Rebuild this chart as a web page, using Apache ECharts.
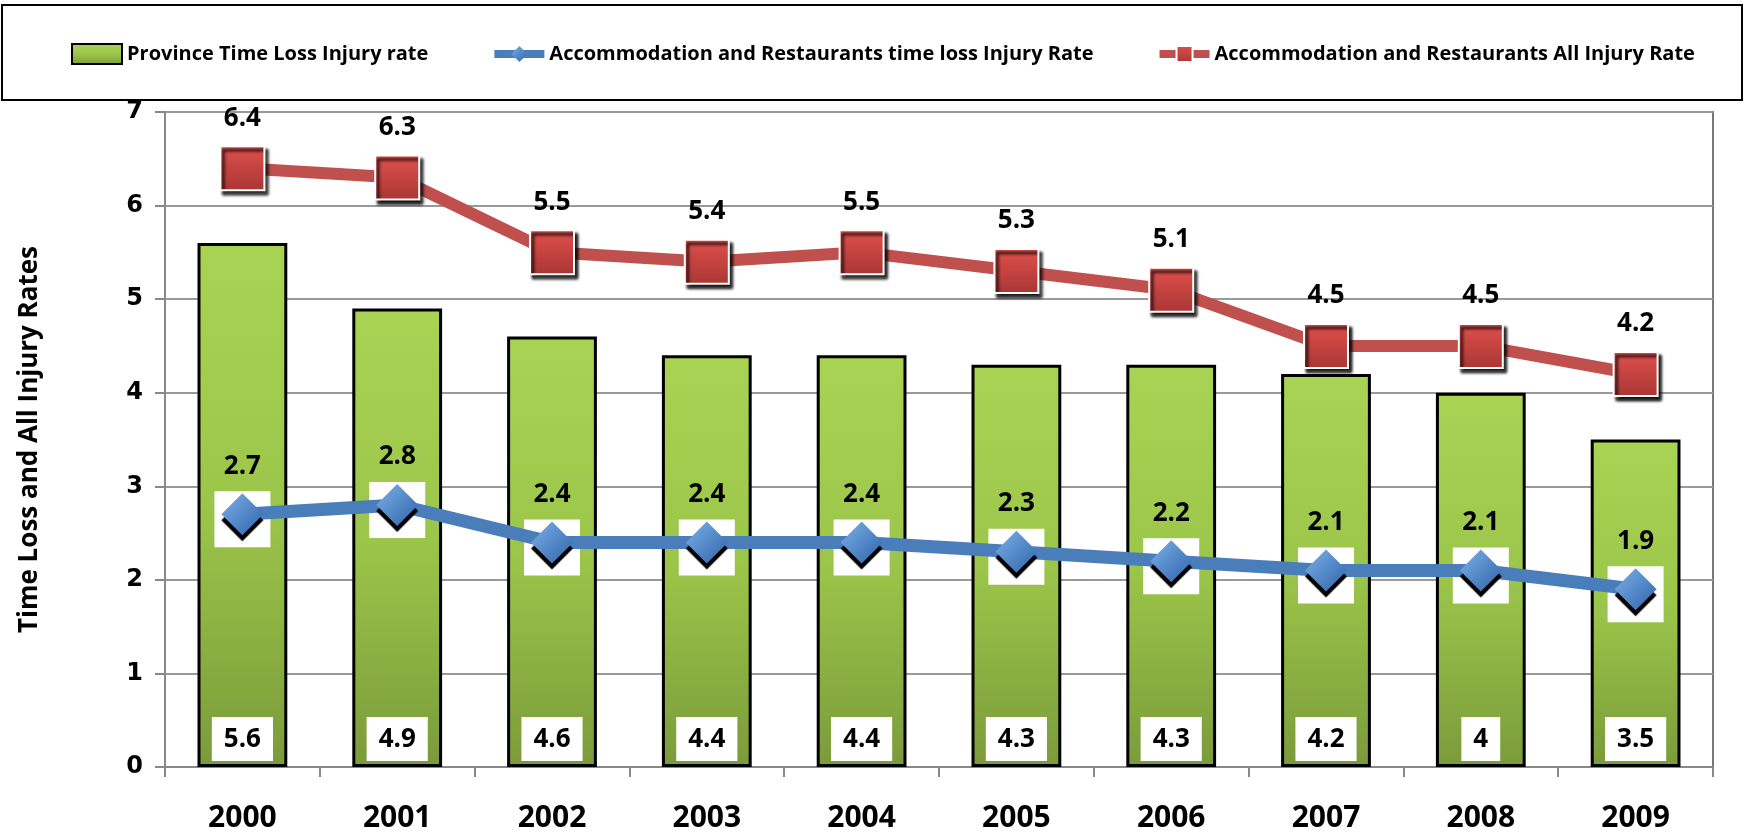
<!DOCTYPE html>
<html>
<head>
<meta charset="utf-8">
<script src="https://cdn.jsdelivr.net/npm/echarts@6/dist/echarts.min.js"></script>
<style>
  html, body { margin: 0; padding: 0; background: #fff; }
  #chart { width: 1744px; height: 836px; }
</style>
</head>
<body>
<div id="chart"></div>
<script>
const years = ['2000', '2001', '2002', '2003', '2004', '2005', '2006', '2007', '2008', '2009'];
const provinceTimeLoss = [5.6, 4.9, 4.6, 4.4, 4.4, 4.3, 4.3, 4.2, 4, 3.5];
const accomTimeLoss = [2.7, 2.8, 2.4, 2.4, 2.4, 2.3, 2.2, 2.1, 2.1, 1.9];
const accomAllInjury = [6.4, 6.3, 5.5, 5.4, 5.5, 5.3, 5.1, 4.5, 4.5, 4.2];

const font = '"Open Sans", sans-serif';
const chart = echarts.init(document.getElementById('chart'));

const option = {
    backgroundColor: '#fff',
    animation: false,
    graphic: [{
        type: 'rect',
        shape: { x: 2, y: 5, width: 1740, height: 95 },
        style: { fill: 'none', stroke: '#000', lineWidth: 2 },
        z: -1
    }],
    legend: {
        top: 38,
        left: 66,
        itemGap: 62,
        itemWidth: 50,
        itemHeight: 20,
        textStyle: { fontFamily: font, fontWeight: 'bold', fontSize: 20, color: '#000' },
        data: [
            { name: 'Province Time Loss Injury rate', icon: 'rect' },
            { name: 'Accommodation and Restaurants time loss Injury Rate', lineStyle: { width: 8 } },
            { name: 'Accommodation and Restaurants All Injury Rate', lineStyle: { width: 8 } }
        ]
    },
    grid: {
        left: 165, right: 31, top: 112, bottom: 69,
        show: true, borderColor: '#777', borderWidth: 2
    },
    xAxis: {
        type: 'category',
        data: years,
        axisLine: { lineStyle: { color: '#888', width: 2 } },
        axisTick: { show: true, length: 10, lineStyle: { color: '#888', width: 2 } },
        axisLabel: { margin: 36, color: '#000', fontFamily: font, fontWeight: 'bold', fontSize: 30 }
    },
    yAxis: {
        type: 'value',
        min: 0,
        max: 7,
        interval: 1,
        name: 'Time Loss and All Injury Rates',
        nameLocation: 'middle',
        nameGap: 122,
        nameTextStyle: { color: '#000', fontFamily: font, fontWeight: 'bold', fontSize: 26 },
        axisLine: { show: true, lineStyle: { color: '#888', width: 2 } },
        axisTick: { show: true, length: 10, lineStyle: { color: '#888', width: 2 } },
        axisLabel: { margin: 22, color: '#000', fontFamily: '"DejaVu Sans", sans-serif', fontWeight: 'bold', fontSize: 24 },
        splitLine: { lineStyle: { color: '#999', width: 2 } }
    },
    series: [
        {
            name: 'Province Time Loss Injury rate',
            type: 'bar',
            data: provinceTimeLoss,
            barWidth: '58%',
            itemStyle: {
                color: new echarts.graphic.LinearGradient(0, 0, 0, 1, [
                    { offset: 0, color: '#a9d353' },
                    { offset: 0.5, color: '#9cc64a' },
                    { offset: 1, color: '#7b9b3a' }
                ]),
                borderColor: '#000',
                borderWidth: 3
            },
            label: {
                show: true,
                position: 'insideBottom',
                distance: 6,
                color: '#000',
                backgroundColor: '#fff',
                padding: [10, 12, 8, 12],
                fontFamily: font,
                fontWeight: 'bold',
                fontSize: 26
            }
        },
        {
            name: 'whitebox',
            type: 'scatter',
            data: accomTimeLoss,
            symbol: 'rect',
            symbolSize: [56, 56],
            symbolOffset: [0, 5],
            itemStyle: { color: '#fff', opacity: 1 },
            silent: true,
            z: 3
        },
        {
            name: 'Accommodation and Restaurants time loss Injury Rate',
            type: 'line',
            data: accomTimeLoss,
            symbol: 'diamond',
            symbolSize: 42,
            lineStyle: { color: '#4a7ebb', width: 13 },
            itemStyle: {
                color: new echarts.graphic.LinearGradient(0, 0, 1, 1, [
                    { offset: 0, color: '#7db1ea' },
                    { offset: 1, color: '#2d64a8' }
                ]),
                shadowColor: '#000',
                shadowBlur: 1,
                shadowOffsetY: 6
            },
            label: {
                show: true,
                position: 'top',
                distance: 14,
                color: '#000',
                fontFamily: font,
                fontWeight: 'bold',
                fontSize: 26
            },
            z: 4
        },
        {
            name: 'Accommodation and Restaurants All Injury Rate',
            type: 'line',
            data: accomAllInjury,
            symbol: 'rect',
            symbolSize: 44,
            lineStyle: { color: '#c0504d', width: 12 },
            itemStyle: {
                color: new echarts.graphic.LinearGradient(0, 0, 0, 1, [
                    { offset: 0, color: '#e0504c' },
                    { offset: 1, color: '#a93634' }
                ]),
                borderColor: '#fff',
                borderWidth: 2,
                shadowColor: '#000',
                shadowBlur: 3,
                shadowOffsetX: 3,
                shadowOffsetY: 4
            },
            label: {
                show: true,
                position: 'top',
                distance: 14,
                color: '#000',
                fontFamily: font,
                fontWeight: 'bold',
                fontSize: 26
            },
            z: 4
        }
    ]
};

chart.setOption(option);
</script>
</body>
</html>
